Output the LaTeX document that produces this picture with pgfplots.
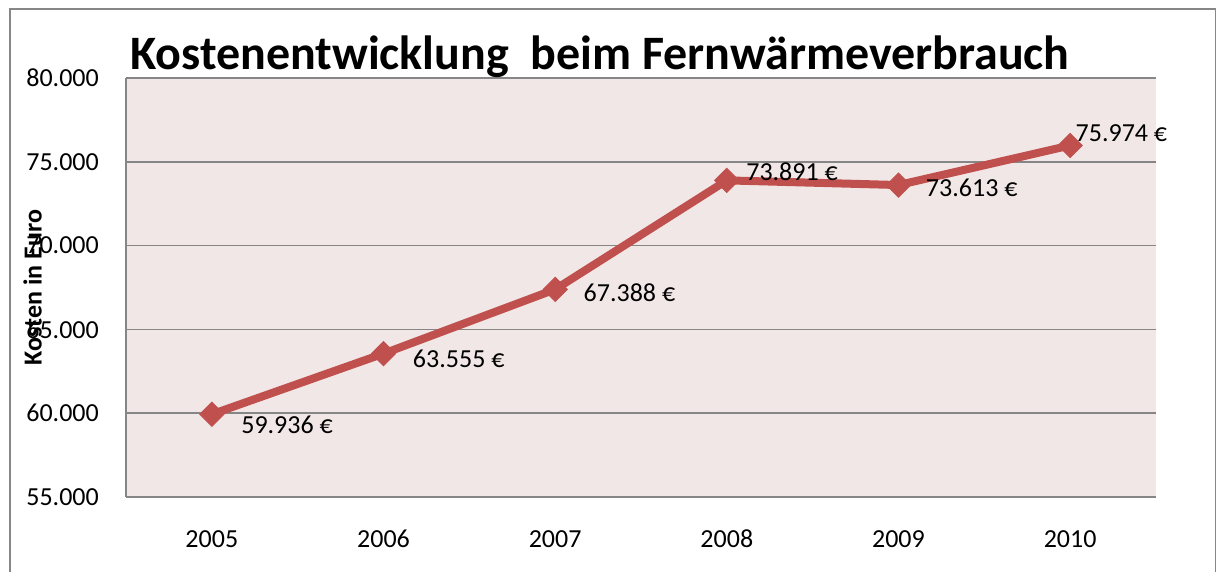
\documentclass[border=0pt]{standalone}
\usepackage{fontspec}
\setmainfont{Carlito}
\usepackage{pgfplots}
\usepackage{pgfplotstable}
\pgfplotsset{compat=1.18}
\definecolor{bgpink}{RGB}{242,231,231}
\definecolor{gridgray}{RGB}{134,134,134}
\definecolor{linered}{RGB}{192,80,77}
\pgfplotstableread{
x y lab dx dy
0.5 59936 59.936 29 -11
1.5 63555 63.555 29 -5
2.5 67388 67.388 28 -3
3.5 73891 73.891 19 9
4.5 73613 73.613 27 -3
5.5 75974 75.974 5 12
}\datatable
\begin{document}
\begin{tikzpicture}
\useasboundingbox (0pt,0pt) rectangle (1217pt,572pt);
\begin{axis}[
  at={(126pt,75pt)}, anchor=south west,
  scale only axis, width=1030pt, height=419pt,
  xmin=0, xmax=6, ymin=55000, ymax=80000,
  scaled y ticks=false, scaled x ticks=false,
  xtick={0.5,1.5,2.5,3.5,4.5,5.5},
  xticklabels={2005,2006,2007,2008,2009,2010},
  ytick={55000,60000,65000,70000,75000,80000},
  yticklabels={55.000,60.000,65.000,70.000,75.000,80.000},
  major tick length=0pt,
  axis x line*=bottom, axis y line*=left,
  axis line style={draw=gridgray, line width=1.5pt},
  ymajorgrids, grid style={draw=gridgray, line width=1.5pt},
  axis background/.style={fill=bgpink},
  tick label style={font=\fontsize{26}{30}\selectfont, inner sep=0pt},
  yticklabel style={xshift=-27pt},
  xticklabel style={yshift=-33pt},
  clip=false,
]
\addplot[color=linered, line width=8pt, mark=square*, mark size=8.5pt,
  mark options={rotate=45, solid, fill=linered, draw=linered, line width=1pt},
  point meta=explicit symbolic,
  visualization depends on={\thisrow{dx} \as \dx},
  visualization depends on={\thisrow{dy} \as \dy},
  nodes near coords={\pgfplotspointmeta\ €},
  every node near coord/.append style={anchor=west, inner sep=0pt, text=black,
     font=\fontsize{26}{30}\selectfont, xshift=\dx pt, yshift=\dy pt},
] table[x=x, y=y, meta=lab] {\datatable};
\end{axis}
\draw[draw=gridgray, line width=1.5pt] (10pt,-10pt) -- (10pt,563pt) -- (1215.5pt,563pt) -- (1215.5pt,-10pt);
\node[anchor=base west, inner sep=0pt, font=\fontsize{48}{56}\selectfont\bfseries] at (130pt,502pt) {Kostenentwicklung\ \ beim Fernwärmeverbrauch};
\node[anchor=base, rotate=90, inner sep=0pt, font=\fontsize{26}{30}\selectfont\bfseries] at (41.6pt,284.5pt) {Kosten in Euro};
\end{tikzpicture}
\end{document}
